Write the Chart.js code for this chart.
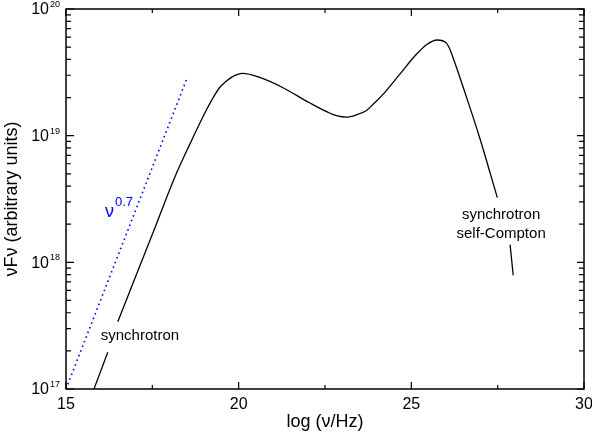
<!DOCTYPE html>
<html>
<head>
<meta charset="utf-8">
<script src="https://cdn.jsdelivr.net/npm/chart.js@4.4.1/dist/chart.umd.min.js"></script>
<style>
  html, body { margin: 0; padding: 0; background: #fff; }
  canvas { display: block; }
</style>
</head>
<body>
<canvas id="sed" width="592" height="438"></canvas>
<script>
// SED curve (log nu, nuFnu); null = gap where a label sits
const curveLogNu = [15.81, 16.21, 16.36, 16.50, 17.57, 18.15, 18.58, 19.02, 19.22, 19.45,
  19.62, 19.80, 20.12, 20.61, 21.27, 22.05, 22.63, 22.86,
  23.12, 23.41, 23.70, 23.93, 24.16, 24.65, 25.14, 25.45, 25.75,
  26.01, 26.10, 26.18, 26.59, 26.97, 27.49, 27.68, 27.86, 27.95];
const curveFlux = [1.0e17, 1.95e17, null, 3.4e17, 1.86e18, 4.7e18, 8.5e18, 1.51e19, 1.91e19, 2.4e19,
  2.66e19, 2.9e19, 3.1e19, 2.88e19, 2.4e19, 1.82e19, 1.51e19, 1.43e19,
  1.4e19, 1.46e19, 1.58e19, 1.81e19, 2.09e19, 3.02e19, 4.37e19, 5.25e19, 5.69e19,
  5.4e19, 4.92e19, 4.34e19, 2.04e19, 9.8e18, 3.24e18, null, 1.38e18, 7.9e17];

// nu^0.7 guide line
const powerLawLogNu = [15, 18.5];
const powerLawFlux = [1e17, 2.82e19];

// axis ticks
const xTickValues = [15, 20, 25, 30];
const xMinorValues = [17.5, 22.5, 27.5];
const yTickValues = [1e17, 1e18, 1e19, 1e20];
const yTickExponents = ["17", "18", "19", "20"];

const FONT = "'Liberation Sans', Arial, Helvetica, sans-serif";

function pairs(xs, ys) {
  return xs.map((x, i) => ({ x: x, y: ys[i] }));
}

// frame, inward ticks, 10^n labels and the in-plot labels
const framePlugin = {
  id: "frame",
  afterDatasetsDraw(chart, args, opts) {
    const ctx = chart.ctx;
    const a = chart.chartArea;
    const xs = chart.scales.x;
    const ys = chart.scales.y;
    ctx.save();
    ctx.strokeStyle = "#000";
    ctx.lineWidth = 1.5;
    ctx.strokeRect(a.left, a.top, a.right - a.left, a.bottom - a.top);

    ctx.lineWidth = 1.2;
    ctx.beginPath();
    xTickValues.forEach(v => {
      const px = xs.getPixelForValue(v);
      ctx.moveTo(px, a.bottom); ctx.lineTo(px, a.bottom - 7);
      ctx.moveTo(px, a.top); ctx.lineTo(px, a.top + 7);
    });
    xMinorValues.forEach(v => {
      const px = xs.getPixelForValue(v);
      ctx.moveTo(px, a.bottom); ctx.lineTo(px, a.bottom - 4);
      ctx.moveTo(px, a.top); ctx.lineTo(px, a.top + 4);
    });
    yTickValues.forEach((v, i) => {
      const py = ys.getPixelForValue(v);
      ctx.moveTo(a.left, py); ctx.lineTo(a.left + 8, py);
      ctx.moveTo(a.right, py); ctx.lineTo(a.right - 7, py);
      if (i < yTickValues.length - 1) {
        for (let m = 2; m <= 9; m++) {
          const pm = ys.getPixelForValue(v * m);
          ctx.moveTo(a.left, pm); ctx.lineTo(a.left + 5, pm);
          ctx.moveTo(a.right, pm); ctx.lineTo(a.right - 5, pm);
        }
      }
    });
    ctx.stroke();

    // y tick labels 10^n
    ctx.fillStyle = "#000";
    ctx.textAlign = "right";
    yTickValues.forEach((v, i) => {
      const py = ys.getPixelForValue(v);
      ctx.font = "9px " + FONT;
      ctx.textBaseline = "alphabetic";
      const ex = yTickExponents[i];
      const ew = ctx.measureText(ex).width;
      ctx.fillText(ex, a.left - 6, py - 2);
      ctx.font = "16px " + FONT;
      ctx.textBaseline = "middle";
      ctx.fillText("10", a.left - 7 - ew, py + 1);
    });

    // text labels placed in data coordinates
    opts.labels.forEach(l => {
      const px = xs.getPixelForValue(l.x);
      const py = ys.getPixelForValue(l.y);
      ctx.fillStyle = l.color || "#000";
      ctx.font = l.size + "px " + FONT;
      ctx.textAlign = "center";
      ctx.textBaseline = "middle";
      l.lines.forEach((t, k) => ctx.fillText(t, px, py + k * l.lineHeight));
    });

    // nu^0.7
    const p = opts.power;
    const px = xs.getPixelForValue(p.x);
    const py = ys.getPixelForValue(p.y);
    ctx.fillStyle = "#0000ff";
    ctx.textAlign = "left";
    ctx.textBaseline = "alphabetic";
    ctx.font = "18px " + FONT;
    ctx.fillText("ν", px, py);
    const w = ctx.measureText("ν").width;
    ctx.font = "13px " + FONT;
    ctx.fillText("0.7", px + w + 1, py - 11);
    ctx.restore();
  }
};

new Chart(document.getElementById("sed"), {
  type: "line",
  data: {
    datasets: [
      {
        data: pairs(curveLogNu, curveFlux),
        borderColor: "#000",
        borderWidth: 1.3,
        pointRadius: 0,
        cubicInterpolationMode: "monotone",
        spanGaps: false
      },
      {
        data: pairs(powerLawLogNu, powerLawFlux),
        borderColor: "#0000ff",
        borderWidth: 1.6,
        borderDash: [1.6, 3.4],
        pointRadius: 0
      }
    ]
  },
  options: {
    responsive: false,
    animation: false,
    layout: { padding: { top: 9, right: 8, left: 0, bottom: 0 } },
    plugins: {
      legend: { display: false },
      tooltip: { enabled: false },
      frame: {
        labels: [
          { x: 17.14, y: 2.63e17, lines: ["synchrotron"], size: 15, lineHeight: 19 },
          { x: 27.6, y: 2.37e18, lines: ["synchrotron", "self-Compton"], size: 15, lineHeight: 19 }
        ],
        power: { x: 16.13, y: 2.28e18 }
      }
    },
    scales: {
      x: {
        type: "linear",
        min: 15,
        max: 30,
        afterBuildTicks: s => { s.ticks = xTickValues.map(v => ({ value: v })); },
        ticks: { color: "#000", font: { family: FONT, size: 16 }, padding: 6, maxRotation: 0 },
        grid: { display: false, drawTicks: false },
        border: { display: false },
        title: { display: true, text: "log (ν/Hz)", color: "#000", font: { family: FONT, size: 18 }, padding: { top: 0, bottom: 5 } },
        afterFit: s => { s.height = 49; s.paddingLeft = 0; s.paddingRight = 0; }
      },
      y: {
        type: "logarithmic",
        min: 1e17,
        max: 1e20,
        afterBuildTicks: s => { s.ticks = yTickValues.map(v => ({ value: v })); },
        ticks: { display: false },
        grid: { display: false, drawTicks: false },
        border: { display: false },
        title: { display: true, text: "νFν (arbitrary units)", color: "#000", font: { family: FONT, size: 18 }, padding: { top: 1, bottom: 0 } },
        afterFit: s => { s.width = 66; s.paddingTop = 0; s.paddingBottom = 0; }
      }
    }
  },
  plugins: [framePlugin]
});
</script>
</body>
</html>
